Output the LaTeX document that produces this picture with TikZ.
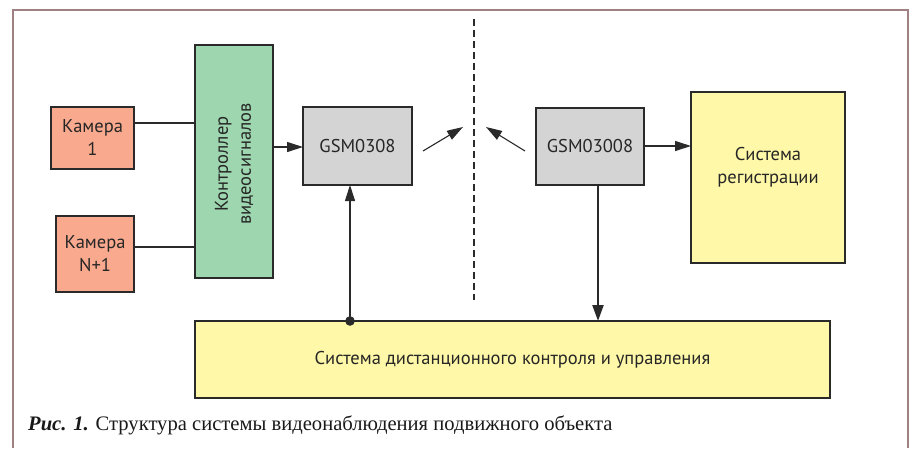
\documentclass[tikz,border=0pt]{standalone}
\usepackage{fontspec}
\setmainfont{Liberation Serif}
\newfontfamily\diafont{PT Sans}
\usetikzlibrary{arrows.meta}
\definecolor{camc}{HTML}{F9AA8E}
\definecolor{ctrlc}{HTML}{9DD6AF}
\definecolor{gsmc}{HTML}{D4D4D4}
\definecolor{yelc}{HTML}{FFF8A8}
\definecolor{framec}{HTML}{A08083}
\definecolor{linec}{HTML}{2A2A2A}
\begin{document}
\begin{tikzpicture}[x=1pt,y=-1pt,
  box/.style={draw=linec, line width=1.3pt, inner sep=0pt, outer sep=0pt, align=center,
    font=\diafont\fontsize{18.5}{23}\selectfont, text=black!85, anchor=north west},
  lbl/.style={inner sep=0pt, align=center, font=\diafont\fontsize{18.5}{23}\selectfont, text=black!85},
  conn/.style={draw=linec, line width=1.1pt},
  arr/.style={conn, -{Triangle[length=16pt,width=10pt]}}
]
\useasboundingbox (0,0) rectangle (909,448);
\draw[framec, line width=1.6pt] (13,448) -- (13,10) -- (908,10) -- (908,448);

\node[box, fill=camc, minimum width=83, minimum height=62] (cam1) at (51,107) {Камера\\1};
\node[box, fill=camc, minimum width=78, minimum height=76] (camN) at (56,216) {Камера\\N+1};
\node[box, fill=ctrlc, minimum width=78, minimum height=233] (ctrl) at (195,45) {};
\node[lbl, rotate=90, font=\diafont\fontsize{18.5}{23}\selectfont] (ctrlt) at (234,164) {Контроллер\\видеосигналов};
\node[box, fill=gsmc, minimum width=109, minimum height=78] (gsm1) at (303,107) {GSM0308};
\node[box, fill=gsmc, minimum width=108, minimum height=77] (gsm2) at (536,108) {GSM03008};
\node[box, fill=yelc, minimum width=154, minimum height=171] (reg) at (691,92) {};
\node[lbl] (regt) at (768,167) {Система\\регистрации};
\node[box, fill=yelc, minimum width=635, minimum height=77] (ctl) at (195,321) {Система дистанционного контроля и управления};

\coordinate (y1) at (0,123);
\coordinate (y2) at (0,247);
\coordinate (y3) at (0,147);
\coordinate (y4) at (0,146);
\coordinate (x1) at (350,0);
\coordinate (x2) at (598,0);
\draw[conn] (cam1.east |- y1) -- (ctrl.west |- y1);
\draw[conn] (camN.east |- y2) -- (ctrl.west |- y2);
\draw[arr] (ctrl.east |- y3) -- (gsm1.west |- y3);
\draw[arr] (gsm2.east |- y4) -- (reg.west |- y4);
\draw[arr] (ctl.north -| x1) -- (gsm1.south -| x1);
\fill[linec] (ctl.north -| x1) circle (4.8);
\draw[conn, line width=2.2pt, -{Triangle[length=16pt,width=11pt]}] (gsm2.south -| x2) -- (ctl.north -| x2);

\coordinate (d1s) at (423,151);
\coordinate (d1e) at (463,127);
\coordinate (d2s) at (525,151);
\coordinate (d2e) at (486,127);
\draw[arr] (d1s) -- (d1e);
\draw[arr] (d2s) -- (d2e);

\coordinate (dt) at (474,19);
\coordinate (db) at (474,300);
\draw[linec, line width=1.8pt, dash pattern=on 7pt off 4pt] (dt) -- (db);

\node[anchor=base west, inner sep=0pt, font=\fontsize{20.6}{24}\selectfont, text=black!90] (cap) at (28,430)
  {\textbf{\textit{Рис. 1.}} Структура системы видеонаблюдения подвижного объекта};
\end{tikzpicture}
\end{document}
